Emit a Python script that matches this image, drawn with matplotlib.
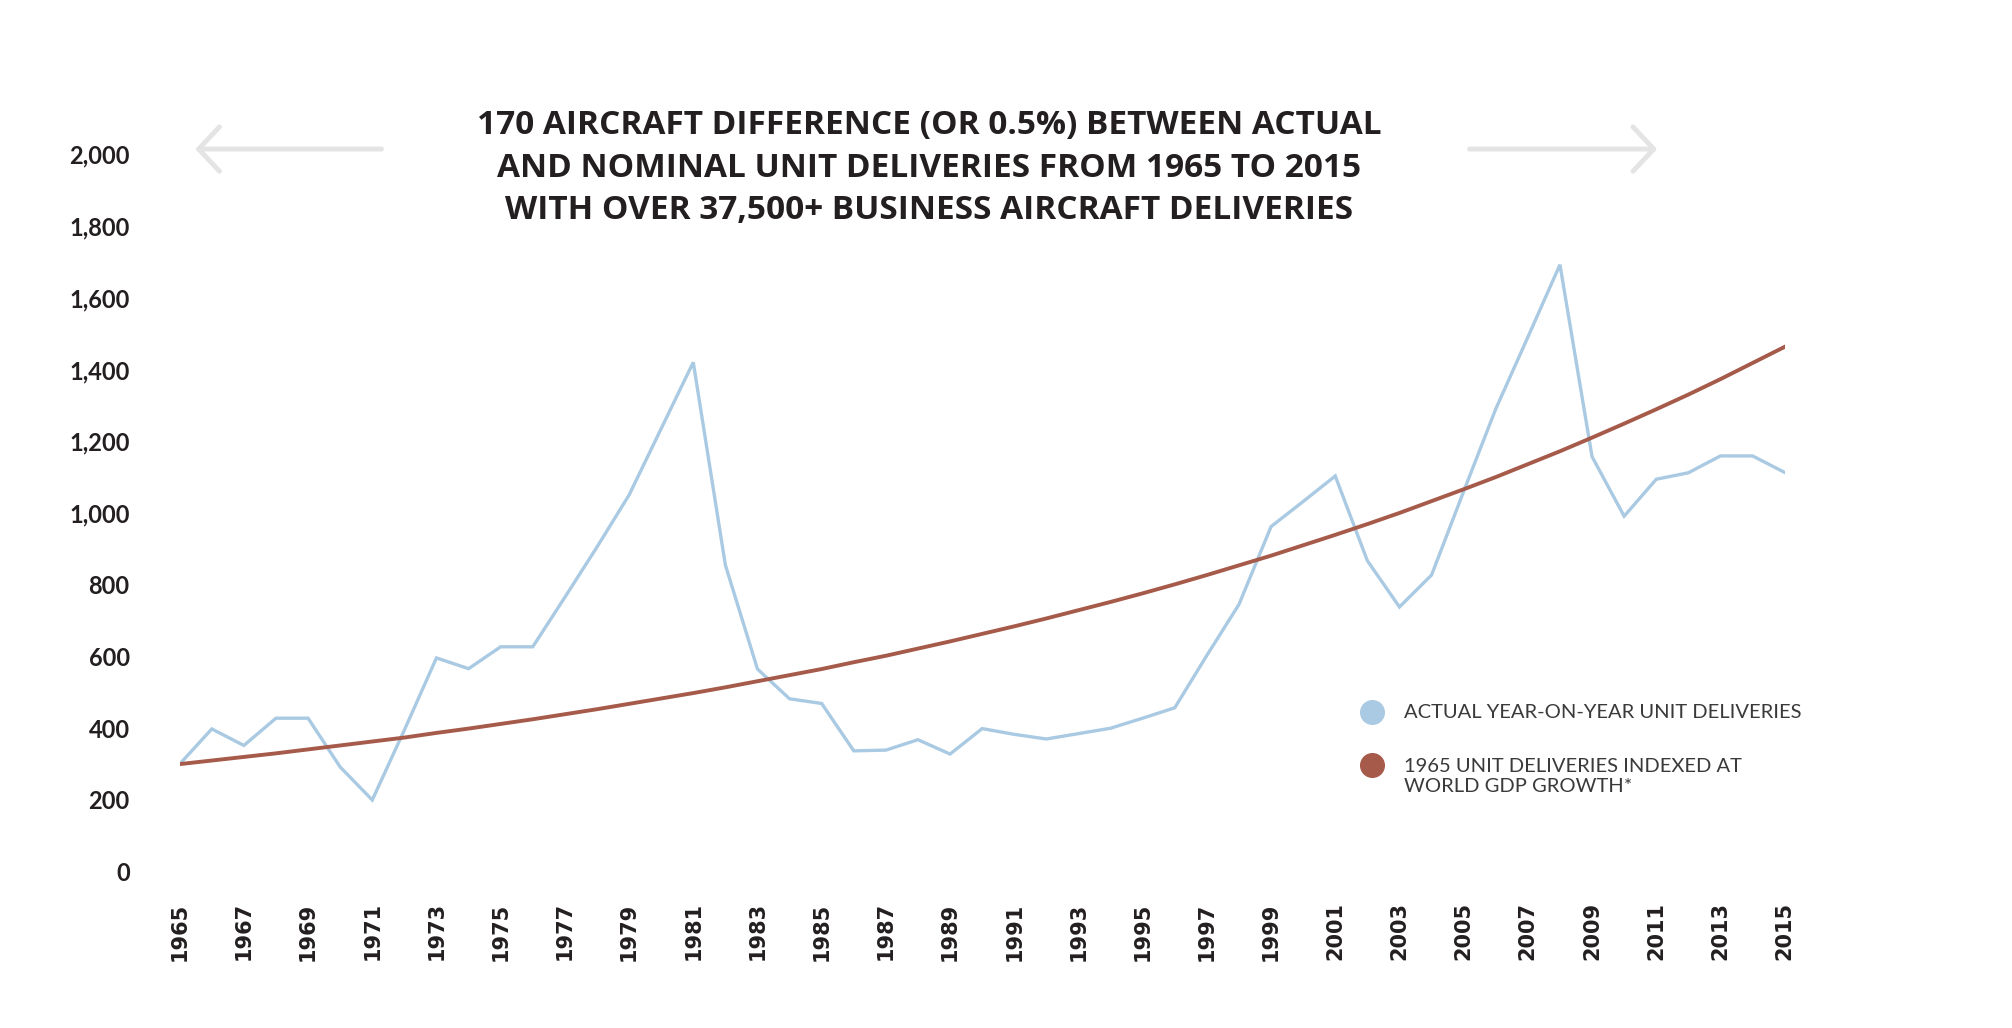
import numpy as np
import matplotlib
matplotlib.use("Agg")
from matplotlib import pyplot as plt
from matplotlib.lines import Line2D
from matplotlib.patches import FancyArrowPatch

# Data
years = list(range(1965, 2016))
actual = [300, 398, 352, 428, 428, 292, 200, 395, 596, 566,
          627, 627, 765, 905, 1050, 1235, 1420, 855, 565, 482,
          469, 337, 339, 368, 328, 399, 383, 370, 385, 400,
          428, 457, 603, 745, 962, 1032, 1103, 867, 738, 827,
          1060, 1290, 1490, 1692, 1157, 991, 1094, 1112, 1159, 1159,
          1113]
indexed = [300, 310, 320, 330, 341, 352, 363, 374, 387, 399,
           412, 425, 439, 453, 468, 483, 498, 514, 531, 548,
           565, 584, 602, 622, 642, 663, 684, 706, 729, 752,
           776, 801, 827, 854, 881, 910, 939, 969, 1000, 1033,
           1066, 1100, 1136, 1172, 1210, 1249, 1289, 1330, 1373, 1418,
           1463]
y_ticks = [0, 200, 400, 600, 800, 1000, 1200, 1400, 1600, 1800, 2000]
x_ticks = list(range(1965, 2016, 2))

title_lines = ["170 AIRCRAFT DIFFERENCE (OR 0.5%) BETWEEN ACTUAL",
               "AND NOMINAL UNIT DELIVERIES FROM 1965 TO 2015",
               "WITH OVER 37,500+ BUSINESS AIRCRAFT DELIVERIES"]
legend_labels = ["ACTUAL YEAR-ON-YEAR UNIT DELIVERIES",
                 "1965 UNIT DELIVERIES INDEXED AT\nWORLD GDP GROWTH*"]

# Style
blue = '#a9cae2'
red = '#a65a4a'
dark = '#231f20'
grey_arrow = '#e4e4e4'
plt.rcParams['font.family'] = ['Lato', 'DejaVu Sans']

fig = plt.figure(figsize=(20.12, 10.28), dpi=100)
ax = fig.add_axes([0.0893, 0.152, 0.7977, 0.698])

ax.plot(years, actual, '-', c=blue, lw=2.4, solid_joinstyle='miter')
ax.plot(years, indexed, '-', c=red, lw=2.8)

ax.set_xlim(1965, 2015)
ax.set_ylim(0, 2000)
for s in ax.spines.values():
    s.set_visible(False)

ax.set_yticks(y_ticks)
ax.set_yticklabels(['{:,}'.format(v) for v in y_ticks],
                   fontsize=17, fontweight='bold', color=dark)
ax.set_xticks(x_ticks)
ax.set_xticklabels([str(v) for v in x_ticks], rotation=90,
                   fontsize=15, fontweight='bold', color=dark,
                   family='DejaVu Sans')
ax.tick_params(axis='y', length=0, pad=36)
ax.tick_params(axis='x', length=0, pad=22)

# Headline, one line at a time
for yy, line in zip([0.8695, 0.8283, 0.7871], title_lines):
    fig.text(0.462, yy, line, ha='center', va='baseline', fontsize=24,
             fontweight='bold', color=dark, family=['Open Sans', 'DejaVu Sans'])

# Arrows either side of the headline
for x0, x1 in [(0.191, 0.0957), (0.729, 0.825)]:
    arr = FancyArrowPatch((x0, 0.855), (x1, 0.855), transform=fig.transFigure,
                          arrowstyle='->,head_length=15,head_width=16',
                          color=grey_arrow, lw=3.5, mutation_scale=1)
    fig.add_artist(arr)

# Legend
for yy, yc, col, lab in [(0.307, 0.307, blue, legend_labels[0]),
                         (0.256, 0.2447, red, legend_labels[1])]:
    fig.add_artist(Line2D([0.682], [yy], marker='o', markersize=17,
                          color=col, linestyle='none', transform=fig.transFigure))
    fig.text(0.698, yc, lab, ha='left', va='center',
             fontsize=14.5, color='#3a3a3a', linespacing=1.2,
             transform=fig.transFigure)

fig.savefig('out.png', dpi=100)
